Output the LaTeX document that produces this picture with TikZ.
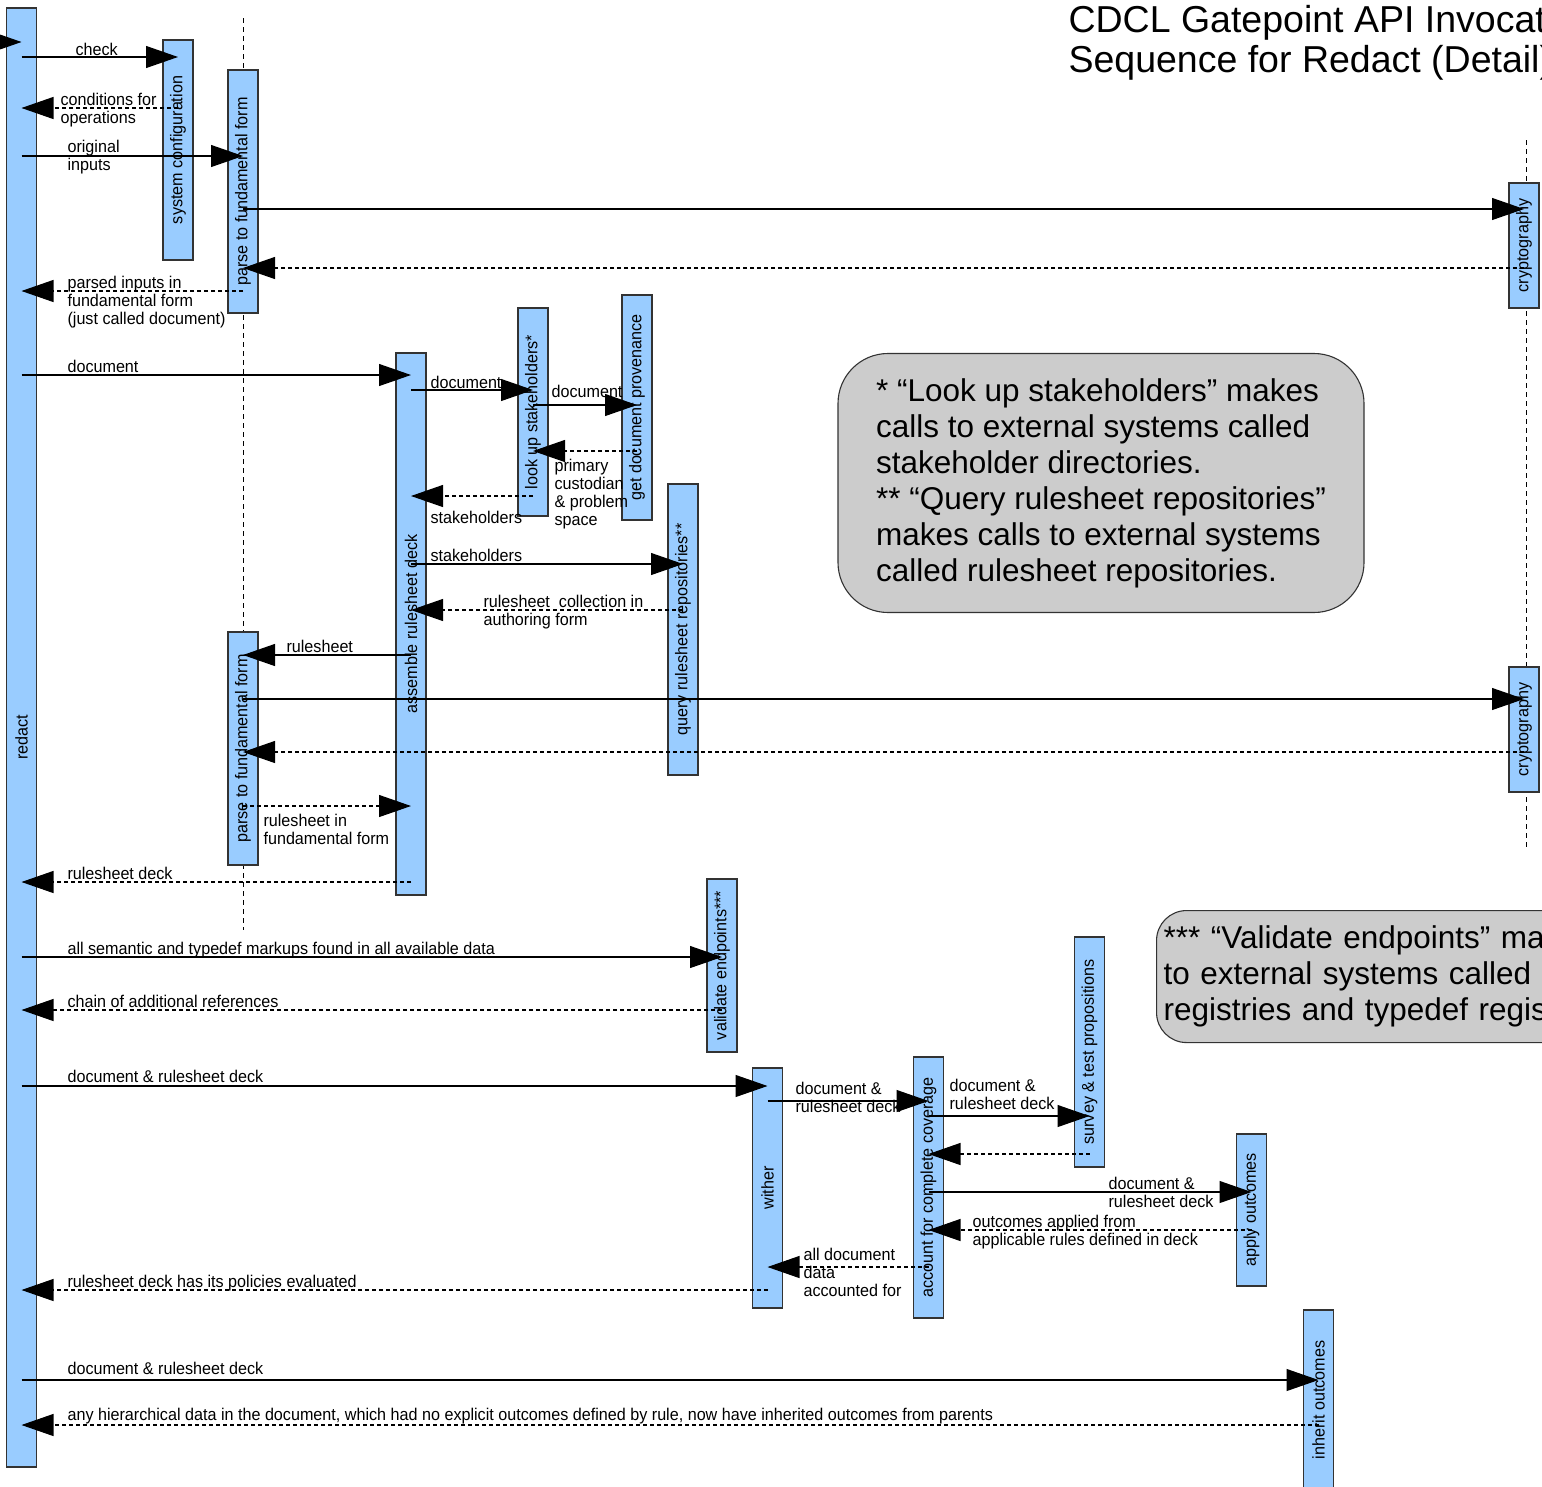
\documentclass[tikz,border=0pt]{standalone}
\usepackage{fontspec}
\setmainfont{Liberation Sans}
\newfontfamily\lblfont[FakeStretch=0.95]{Liberation Sans}
\usetikzlibrary{arrows.meta,shapes}
\definecolor{barblue}{HTML}{99CCFF}
\definecolor{edgegray}{HTML}{333333}
\definecolor{notegray}{HTML}{CCCCCC}

\begin{document}
\begin{tikzpicture}[x=1pt, y=-1pt, >={Triangle[length=32pt,width=22pt]}, line width=1.1pt]
\tikzstyle{bar}=[draw=edgegray, fill=barblue, rotate=90, minimum height=30pt, inner sep=0pt, font=\lblfont\fontsize{17}{18}\selectfont]
\tikzstyle{call}=[->, draw=black]
\tikzstyle{reply}=[->, draw=black, dash pattern=on 4pt off 3pt]
\tikzstyle{lifeline}=[draw=black, line width=0.9pt, dash pattern=on 5pt off 4pt]
\tikzstyle{lbl}=[anchor=base west, align=left, inner sep=0pt, font=\lblfont\fontsize{17}{18}\selectfont]
\tikzstyle{note}=[draw=edgegray, fill=notegray, align=left, inner ysep=0pt, font=\fontsize{31.5}{36}\selectfont]
\useasboundingbox (0,0) rectangle (1542,1486);
\clip (0,0) rectangle (1542,1486);

% lifelines
\draw[lifeline] (243,18) -- (243,930);
\draw[lifeline] (1526,140) -- (1526,850);

% activation bars
\node[bar, minimum width=1459pt] (redact)   at (21.5,737.5)  {redact};
\node[bar, minimum width=220pt]  (sysconf)  at (178,150)     {system configuration};
\node[bar, minimum width=243pt]  (parseA)   at (243,191.5)   {parse to fundamental form};
\node[bar, minimum width=125pt]  (cryptoA)  at (1524,245.5)  {cryptography};
\node[bar, minimum width=542pt]  (assemble) at (411,624)     {assemble rulesheet deck};
\node[bar, minimum width=208pt]  (lookup)   at (533,412)     {look up stakeholders*};
\node[bar, minimum width=225pt]  (prov)     at (637,407.5)   {get document provenance};
\node[bar, minimum width=291pt]  (query)    at (683,629.5)   {query rulesheet repositories**};
\node[bar, minimum width=233pt]  (parseB)   at (243,748.5)   {parse to fundamental form};
\node[bar, minimum width=125pt]  (cryptoB)  at (1524,729.5)  {cryptography};
\node[bar, minimum width=173pt]  (validate) at (722,965.5)   {validate endpoints***};
\node[bar, minimum width=240pt]  (wither)   at (767.5,1188)  {wither};
\node[bar, minimum width=261pt]  (account)  at (928.5,1187.5) {account for complete coverage};
\node[bar, minimum width=230pt]  (survey)   at (1089.5,1052) {survey \& test propositions};
\node[bar, minimum width=152pt]  (apply)    at (1251.5,1210) {apply outcomes};
\node[bar, minimum width=180pt]  (inherit)  at (1318.5,1400) {inherit outcomes};

% title and notes
\node[anchor=base west, align=left, inner sep=0pt, font=\fontsize{37.5}{40}\selectfont] (title) at (1068,72)
  {CDCL Gatepoint API Invocation\\Sequence for Redact (Detail)};
\node[note, rounded corners=50pt, minimum width=526pt, minimum height=259pt, inner xsep=32pt] (noteA) at (1101,483)
  {* “Look up stakeholders” makes\\calls to external systems called\\stakeholder directories.\\{}** “Query rulesheet repositories”\\makes calls to external systems\\called rulesheet repositories.};
\node[note, rounded corners=30pt, anchor=north west, minimum height=132pt, text width=600pt, inner xsep=7pt] (noteB) at (1156,910)
  {*** “Validate endpoints” makes calls\\to external systems called\\registries and typedef registries.};

% messages
\coordinate (entry) at (-40,42);
\draw[call] (entry) -- (redact |- 0,42);
\draw[call] (redact |- 0,57) -- (sysconf |- 0,57);
\node[lbl] (tCheck) at (75,55) {check};
\draw[reply] (sysconf |- 0,108) -- (redact |- 0,108);
\node[lbl] (tCond) at (60,123) {conditions for\\operations};
\draw[call] (redact |- 0,156) -- (parseA |- 0,156);
\node[lbl] (tOrig) at (67,170) {original\\inputs};
\draw[call] (parseA |- 0,209) -- (cryptoA |- 0,209);
\draw[reply] (cryptoA |- 0,268) -- (parseA |- 0,268);
\draw[reply] (parseA |- 0,291) -- (redact |- 0,291);
\node[lbl] (tParsed) at (67,324) {parsed inputs in\\fundamental form\\(just called document)};
\draw[call] (redact |- 0,375) -- (assemble |- 0,375);
\node[lbl] (tDocA) at (67,372) {document};
\draw[call] (assemble |- 0,390) -- (lookup |- 0,390);
\node[lbl] (tDocB) at (430,388) {document};
\draw[call] (lookup |- 0,405) -- (prov |- 0,405);
\node[lbl] (tDocC) at (551,397) {document};
\draw[reply] (prov |- 0,451) -- (lookup |- 0,451);
\node[lbl] (tPrimary) at (554,525) {primary\\custodian\\\& problem\\space};
\draw[reply] (lookup |- 0,496) -- (assemble |- 0,496);
\node[lbl] (tStakeA) at (430,523) {stakeholders};
\draw[call] (assemble |- 0,564) -- (query |- 0,564);
\node[lbl] (tStakeB) at (430,561) {stakeholders};
\draw[reply] (query |- 0,610) -- (assemble |- 0,610);
\node[lbl] (tColl) at (483,625) {rulesheet~ collection in\\authoring form};
\draw[call] (assemble |- 0,655) -- (parseB |- 0,655);
\node[lbl] (tRule) at (286,652) {rulesheet};
\draw[call] (parseB |- 0,699) -- (cryptoB |- 0,699);
\draw[reply] (cryptoB |- 0,752) -- (parseB |- 0,752);
\draw[reply] (parseB |- 0,806) -- (assemble |- 0,806);
\node[lbl] (tRuleFund) at (263,844) {rulesheet in\\fundamental form};
\draw[reply] (assemble |- 0,882) -- (redact |- 0,882);
\node[lbl] (tDeck) at (67,879) {rulesheet deck};
\draw[call] (redact |- 0,957) -- (validate |- 0,957);
\node[lbl] (tMarkups) at (67,954) {all semantic and typedef markups found in all available data};
\draw[reply] (validate |- 0,1010) -- (redact |- 0,1010);
\node[lbl] (tChain) at (67,1007) {chain of additional references};
\draw[call] (redact |- 0,1086) -- (wither |- 0,1086);
\node[lbl] (tDocDeckA) at (67,1082) {document \& rulesheet deck};
\draw[call] (wither |- 0,1101) -- (account |- 0,1101);
\node[lbl] (tDocDeckB) at (795,1112) {document \&\\rulesheet deck};
\draw[call] (account |- 0,1116) -- (survey |- 0,1116);
\node[lbl] (tDocDeckC) at (949,1109) {document \&\\rulesheet deck};
\draw[reply] (survey |- 0,1154) -- (account |- 0,1154);
\draw[call] (account |- 0,1192) -- (apply |- 0,1192);
\node[lbl] (tDocDeckD) at (1108,1207) {document \&\\rulesheet deck};
\draw[reply] (apply |- 0,1230) -- (account |- 0,1230);
\node[lbl] (tApplied) at (972,1245) {outcomes applied from\\applicable rules defined in deck};
\draw[reply] (account |- 0,1267) -- (wither |- 0,1267);
\node[lbl] (tAllData) at (803,1296) {all document\\data\\accounted for};
\draw[reply] (wither |- 0,1290) -- (redact |- 0,1290);
\node[lbl] (tEval) at (67,1287) {rulesheet deck has its policies evaluated};
\draw[call] (redact |- 0,1380) -- (inherit |- 0,1380);
\node[lbl] (tDocDeckE) at (67,1374) {document \& rulesheet deck};
\draw[reply] (inherit |- 0,1425) -- (redact |- 0,1425);
\node[lbl] (tInherit) at (67,1420) {any hierarchical data in the document, which had no explicit outcomes defined by rule, now have inherited outcomes from parents};
\end{tikzpicture}
\end{document}
